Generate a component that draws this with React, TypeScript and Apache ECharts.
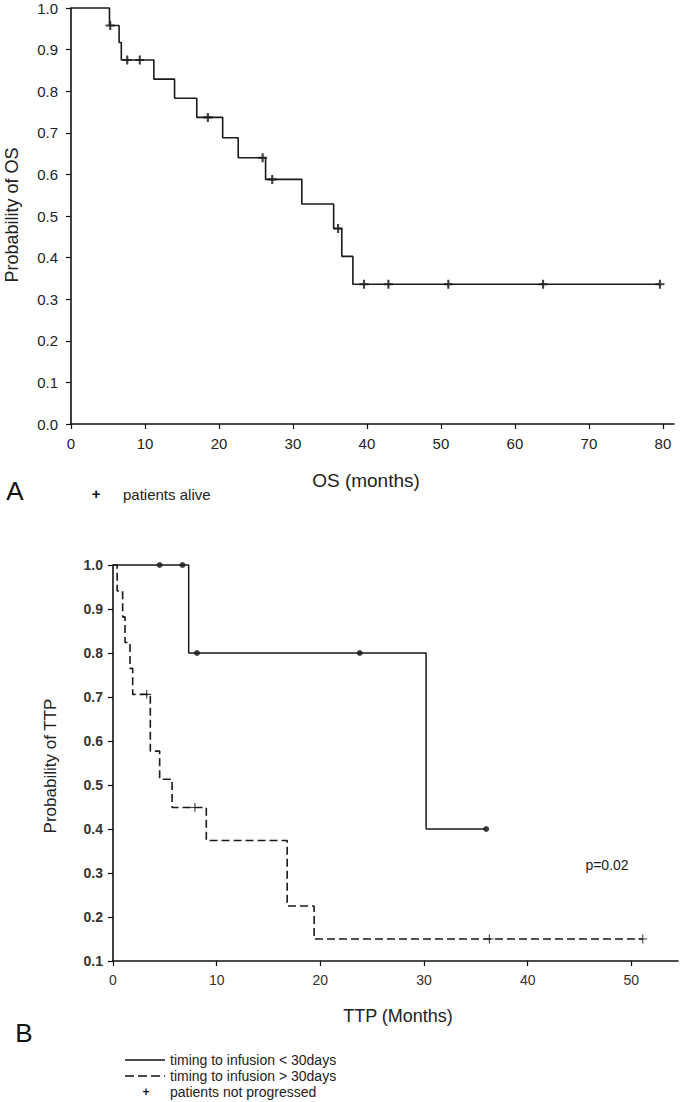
import React, { useEffect, useRef } from "react";
import * as echarts from "echarts";

// ---------- Panel A : overall survival ----------
const osTicksX = [0, 10, 20, 30, 40, 50, 60, 70, 80];
const osCurve = [
  [0, 1.0], [5.2, 0.958], [6.5, 0.917], [6.8, 0.875], [11.2, 0.829], [14.0, 0.783],
  [17.0, 0.737], [20.5, 0.688], [22.6, 0.64], [26.3, 0.588], [31.2, 0.529],
  [35.5, 0.47], [36.6, 0.403], [38.1, 0.336], [79.6, 0.336],
];
const osCensored = [
  [5.3, 0.958], [7.6, 0.875], [9.3, 0.875], [18.5, 0.737], [25.9, 0.64], [27.2, 0.588],
  [36.1, 0.47], [39.6, 0.336], [42.9, 0.336], [51.0, 0.336], [63.8, 0.336], [79.6, 0.336],
];

// ---------- Panel B : time to progression ----------
const ttpTicksX = [0, 10, 20, 30, 40, 50];
const ttpShort = [[0, 1.0], [7.3, 0.8], [30.2, 0.4], [36.0, 0.4]];
const ttpShortCensored = [[4.5, 1.0], [6.7, 1.0], [8.1, 0.8], [23.8, 0.8], [36.0, 0.4]];
const ttpLong = [
  [0, 1.0], [0.4, 0.941], [0.93, 0.882], [1.16, 0.824], [1.64, 0.765], [1.9, 0.706],
  [3.6, 0.577], [4.5, 0.513], [5.7, 0.449], [9.0, 0.374], [16.8, 0.225], [19.4, 0.15],
  [51.1, 0.15],
];
const ttpLongCensored = [[3.25, 0.706], [7.9, 0.449], [36.3, 0.15], [51.1, 0.15]];

const FONT = "'Liberation Sans', Arial, sans-serif";
const boldPlus = "path://M3.8 0H6.2V3.8H10V6.2H6.2V10H3.8V6.2H0V3.8H3.8Z";
const thinPlus = "path://M4.4 0H5.6V4.4H10V5.6H5.6V10H4.4V5.6H0V4.4H4.4Z";

export default function App() {
  const ref = useRef<HTMLDivElement>(null);
  useEffect(() => {
    if (!ref.current) return;
    const chart = echarts.init(ref.current, null, { renderer: "svg" });
    const axisLine = { show: true, lineStyle: { color: "#111", width: 1.6 } };
    const axisTick = { show: true, inside: false, length: 5, lineStyle: { color: "#111", width: 1.2 } };
    chart.setOption({
      animation: false,
      backgroundColor: "#fff",
      grid: [
        { left: 71, top: 8, width: 603, height: 416 },
        { left: 113, top: 565, width: 565, height: 396 },
      ],
      xAxis: [
        {
          gridIndex: 0, type: "value", min: 0, max: 81.5, interval: 10,
          axisLine, splitLine: { show: false },
          axisTick: { ...axisTick, customValues: osTicksX },
          axisLabel: { customValues: osTicksX, color: "#222", fontSize: 15, fontFamily: FONT, margin: 12 },
        },
        {
          gridIndex: 1, type: "value", min: 0, max: 54.5, interval: 10,
          axisLine, splitLine: { show: false },
          axisTick: { ...axisTick, customValues: ttpTicksX },
          axisLabel: { customValues: ttpTicksX, color: "#333", fontSize: 14, fontFamily: FONT, margin: 12 },
        },
      ],
      yAxis: [
        {
          gridIndex: 0, type: "value", min: 0, max: 1, interval: 0.1,
          axisLine, splitLine: { show: false }, axisTick,
          axisLabel: { color: "#222", fontSize: 15, fontFamily: FONT, margin: 13, formatter: (v: number) => v.toFixed(1) },
        },
        {
          gridIndex: 1, type: "value", min: 0.1, max: 1, interval: 0.1,
          axisLine, splitLine: { show: false }, axisTick,
          axisLabel: { color: "#333", fontSize: 14, fontWeight: "bold", fontFamily: FONT, margin: 10, formatter: (v: number) => v.toFixed(1) },
        },
      ],
      series: [
        {
          type: "line", xAxisIndex: 0, yAxisIndex: 0, data: osCurve, step: "end",
          showSymbol: false, clip: false, lineStyle: { color: "#1a1a1a", width: 1.6 },
        },
        {
          type: "scatter", xAxisIndex: 0, yAxisIndex: 0, data: osCensored,
          symbol: boldPlus, symbolSize: 9, itemStyle: { color: "#111" }, clip: false,
        },
        {
          type: "line", xAxisIndex: 1, yAxisIndex: 1, data: ttpShort, step: "end",
          showSymbol: false, clip: false, lineStyle: { color: "#1a1a1a", width: 1.5 },
        },
        {
          type: "scatter", xAxisIndex: 1, yAxisIndex: 1, data: ttpShortCensored,
          symbol: "circle", symbolSize: 6, itemStyle: { color: "#111" }, clip: false,
        },
        {
          type: "line", xAxisIndex: 1, yAxisIndex: 1, data: ttpLong, step: "end",
          showSymbol: false, clip: false, lineStyle: { color: "#1a1a1a", width: 1.6, type: [8, 4] },
        },
        {
          type: "scatter", xAxisIndex: 1, yAxisIndex: 1, data: ttpLongCensored,
          symbol: thinPlus, symbolSize: 9, itemStyle: { color: "#111" }, clip: false,
        },
      ],
      graphic: [
        { type: "text", x: 12, y: 215, rotation: Math.PI / 2, style: { text: "Probability of OS", font: `18px ${FONT}`, fill: "#222", align: "center", verticalAlign: "middle" } },
        { type: "text", x: 366, y: 480, style: { text: "OS (months)", font: `19px ${FONT}`, fill: "#222", align: "center", verticalAlign: "middle" } },
        { type: "text", x: 15, y: 491, style: { text: "A", font: `26px ${FONT}`, fill: "#111", align: "center", verticalAlign: "middle" } },
        { type: "text", x: 96, y: 493, style: { text: "+", font: `bold 15px ${FONT}`, fill: "#111", align: "center", verticalAlign: "middle" } },
        { type: "text", x: 123, y: 494, style: { text: "patients alive", font: `15px ${FONT}`, fill: "#222", align: "left", verticalAlign: "middle" } },

        { type: "text", x: 50, y: 766, rotation: Math.PI / 2, style: { text: "Probability of TTP", font: `17px ${FONT}`, fill: "#222", align: "center", verticalAlign: "middle" } },
        { type: "text", x: 398, y: 1016, style: { text: "TTP (Months)", font: `18px ${FONT}`, fill: "#222", align: "center", verticalAlign: "middle" } },
        { type: "text", x: 24, y: 1033, style: { text: "B", font: `26px ${FONT}`, fill: "#111", align: "center", verticalAlign: "middle" } },
        { type: "text", x: 607, y: 865, style: { text: "p=0.02", font: `14px ${FONT}`, fill: "#222", align: "center", verticalAlign: "middle" } },

        { type: "line", shape: { x1: 125, y1: 1060, x2: 165, y2: 1060 }, style: { stroke: "#111", lineWidth: 1.5 } },
        { type: "text", x: 170, y: 1060, style: { text: "timing to infusion < 30days", font: `14px ${FONT}`, fill: "#222", align: "left", verticalAlign: "middle" } },
        { type: "line", shape: { x1: 125, y1: 1076, x2: 165, y2: 1076 }, style: { stroke: "#111", lineWidth: 1.5, lineDash: [9, 4] } },
        { type: "text", x: 170, y: 1076, style: { text: "timing to infusion > 30days", font: `14px ${FONT}`, fill: "#222", align: "left", verticalAlign: "middle" } },
        { type: "text", x: 146, y: 1092, style: { text: "+", font: `bold 12px ${FONT}`, fill: "#111", align: "center", verticalAlign: "middle" } },
        { type: "text", x: 170, y: 1092, style: { text: "patients not progressed", font: `14px ${FONT}`, fill: "#222", align: "left", verticalAlign: "middle" } },
      ],
    });
    return () => chart.dispose();
  }, []);
  return (
    <div
      ref={ref}
      style={{ position: "absolute", left: 0, top: 0, width: 685, height: 1102, background: "#fff" }}
    />
  );
}
